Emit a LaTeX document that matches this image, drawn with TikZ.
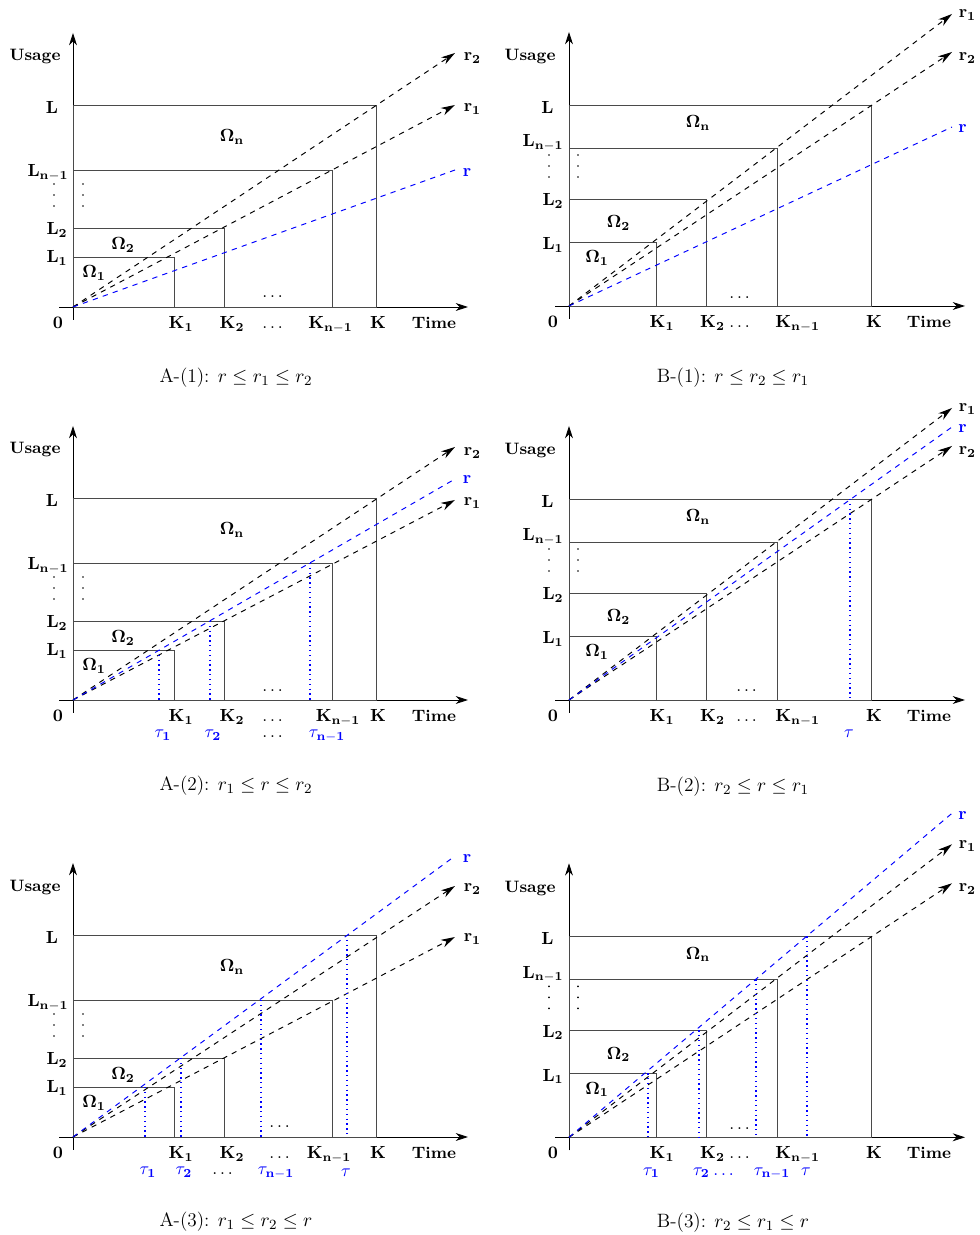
\documentclass[tikz,border=0pt]{standalone}
\usepackage{amsmath,amssymb}
\usepackage{tikz}
\usepackage{xcolor}
\usetikzlibrary{arrows.meta,calc}
\definecolor{ink}{HTML}{000000}
\definecolor{boxgray}{HTML}{4A4A4A}
\definecolor{rayblue}{HTML}{0000FF}
\tikzset{
  axisarr/.style={draw=ink,line width=0.5pt,-{Stealth[length=7pt,width=4.5pt,inset=2.2pt]}},
  region/.style={draw=boxgray,line width=0.5pt},
  rayarr/.style={draw=ink,dashed,line width=0.55pt,-{Stealth[length=8pt,width=4.6pt,inset=2.5pt]}},
  bluray/.style={draw=rayblue,dashed,line width=0.55pt},
  tauline/.style={draw=rayblue,line width=0.75pt,dash pattern=on 0.75pt off 2pt},
  lab/.style={font=\fontsize{10}{12}\selectfont\bfseries,inner sep=0pt},
  txtlab/.style={lab,font=\fontsize{9.4}{11}\selectfont\bfseries},
  bluelab/.style={lab,text=rayblue},
  baselab/.style={lab,anchor=base},
  bluebase/.style={bluelab,anchor=base},
  caplab/.style={font=\fontsize{11}{13}\selectfont,inner sep=0pt}
}

\begin{document}
\begin{tikzpicture}[x=0.02cm,y=0.02cm]
  \useasboundingbox (0,0) rectangle (980,1235);
  % left column frames
  \foreach \p/\oy in {a1/928,a2/535,a3/98}{
    \begin{scope}[shift={(73,\oy)}]
      \draw[axisarr] (-14,0) -- (395,0);
      \draw[axisarr] (0,-13) -- (0,274);
      \foreach \k/\l in {101/50,151/79,259/137,303/202}
        \draw[region] (0,0) rectangle (\k,\l);
      \foreach \dx in {-19,10}
        \foreach \dy in {101,112,123}
          \fill[ink] (\dx,\dy) circle (0.55pt);
      \node[txtlab] (\p-usage) at (-38,250) {Usage};
      \node[lab] (\p-L) at (-21,200) {$\mathbf{L}$};
      \node[lab] (\p-Ln) at (-25,134) {$\mathbf{L_{n-1}}$};
      \node[lab] (\p-L2) at (-16,77) {$\mathbf{L_2}$};
      \node[lab] (\p-L1) at (-16,49) {$\mathbf{L_1}$};
      \node[lab] (\p-omn) at (159,170) {$\mathbf{\Omega_n}$};
      \node[lab] (\p-om2) at (50,62) {$\mathbf{\Omega_2}$};
      \node[lab] (\p-om1) at (21,34) {$\mathbf{\Omega_1}$};
      \node[baselab] (\p-zero) at (-15,-21.5) {$\mathbf{0}$};
      \node[baselab] (\p-K1) at (108,-21.5) {$\mathbf{K_1}$};
      \node[baselab] (\p-K2) at (159,-21.5) {$\mathbf{K_2}$};
      \node[baselab] (\p-K) at (305,-21.5) {$\mathbf{K}$};
      \node[txtlab,anchor=base] (\p-time) at (361,-21.5) {Time};
      \coordinate (\p-o) at (0,0);
    \end{scope}
  }
  % right column frames
  \foreach \p/\oy in {b1/929,b2/535,b3/97.7}{
    \begin{scope}[shift={(569,\oy)}]
      \draw[axisarr] (-14,0) -- (396,0);
      \draw[axisarr] (0,-13) -- (0,274);
      \foreach \k/\l in {87/64,137/107,208/158,302/201}
        \draw[region] (0,0) rectangle (\k,\l);
      \foreach \dx in {-20,9}
        \foreach \dy in {129,140,151}
          \fill[ink] (\dx,\dy) circle (0.55pt);
      \node[txtlab] (\p-usage) at (-39,249) {Usage};
      \node[lab] (\p-L) at (-21.5,199) {$\mathbf{L}$};
      \node[lab] (\p-Ln) at (-26,163) {$\mathbf{L_{n-1}}$};
      \node[lab] (\p-L2) at (-16,105) {$\mathbf{L_2}$};
      \node[lab] (\p-L1) at (-16,61) {$\mathbf{L_1}$};
      \node[lab] (\p-omn) at (129,183) {$\mathbf{\Omega_n}$};
      \node[lab] (\p-om2) at (49.5,83) {$\mathbf{\Omega_2}$};
      \node[lab] (\p-om1) at (28,48) {$\mathbf{\Omega_1}$};
      \node[baselab] (\p-zero) at (-16,-21.5) {$\mathbf{0}$};
      \node[baselab] (\p-K1) at (93,-21.5) {$\mathbf{K_1}$};
      \node[baselab] (\p-K2) at (143.5,-21.5) {$\mathbf{K_2}$};
      \node[baselab] (\p-Kn) at (228.6,-21.5) {$\mathbf{K_{n-1}}$};
      \node[baselab] (\p-K) at (305,-21.5) {$\mathbf{K}$};
      \node[txtlab,anchor=base] (\p-time) at (360,-21.5) {Time};
      \coordinate (\p-o) at (0,0);
    \end{scope}
  }

  % A-(1)
  \begin{scope}[shift={(73,928)}]
    \coordinate (a1-r2) at (382,254);
    \coordinate (a1-r1) at (382,202);
    \coordinate (a1-r) at (382,137);
    \draw[rayarr] (a1-o) -- (a1-r2);
    \draw[rayarr] (a1-o) -- (a1-r1);
    \draw[bluray] (a1-o) -- (a1-r);
    \node[lab] (a1-r2lab) at (399.5,249) {$\mathbf{r_2}$};
    \node[lab] (a1-r1lab) at (399.5,198) {$\mathbf{r_1}$};
    \node[bluelab] (a1-rlab) at (394,134) {$\mathbf{r}$};
    \node[baselab] (a1-Kn) at (257.5,-21.5) {$\mathbf{K_{n-1}}$};
    \node[baselab] (a1-dots) at (201,-21.5) {$\dots$};
    \node[lab] (a1-inner) at (201,10) {$\dots$};
    \node[caplab] (a1-cap) at (163,-71) {A-(1): $r \leq r_1 \leq r_2$};
  \end{scope}

  % B-(1)
  \begin{scope}[shift={(569,929)}]
    \coordinate (b1-r1) at (383,292);
    \coordinate (b1-r2) at (383,254);
    \coordinate (b1-r) at (383,179);
    \draw[rayarr] (b1-o) -- (b1-r1);
    \draw[rayarr] (b1-o) -- (b1-r2);
    \draw[bluray] (b1-o) -- (b1-r);
    \node[lab] (b1-r1lab) at (398.5,291) {$\mathbf{r_1}$};
    \node[lab] (b1-r2lab) at (398.5,248) {$\mathbf{r_2}$};
    \node[bluelab] (b1-rlab) at (393.5,177) {$\mathbf{r}$};
    \node[baselab] (b1-dots) at (172,-21.5) {$\dots$};
    \node[lab] (b1-inner) at (172,8) {$\dots$};
    \node[caplab] (b1-cap) at (164,-72) {B-(1): $r \leq r_2 \leq r_1$};
  \end{scope}

  % A-(2)
  \begin{scope}[shift={(73,535)}]
    \coordinate (a2-r2) at (382,253);
    \coordinate (a2-r1) at (382,200);
    \coordinate (a2-r) at (382,221);
    \draw[rayarr] (a2-o) -- (a2-r2);
    \draw[rayarr] (a2-o) -- (a2-r1);
    \draw[bluray] (a2-o) -- (a2-r);
    \foreach \tx/\ty in {86/50,137/79,237/137}
      \draw[tauline] (\tx,\ty) -- (\tx,0);
    \node[lab] (a2-r2lab) at (399.5,247) {$\mathbf{r_2}$};
    \node[bluelab] (a2-rlab) at (394,220) {$\mathbf{r}$};
    \node[lab] (a2-r1lab) at (399.5,197) {$\mathbf{r_1}$};
    \node[baselab] (a2-Kn) at (265,-21.5) {$\mathbf{K_{n-1}}$};
    \node[baselab] (a2-dots) at (201,-21.5) {$\dots$};
    \node[lab] (a2-inner) at (201,9) {$\dots$};
    \node[bluebase] (a2-t1) at (90,-38) {$\mathbf{\tau_1}$};
    \node[bluebase] (a2-t2) at (140,-38) {$\mathbf{\tau_2}$};
    \node[baselab] (a2-tdots) at (201,-38) {$\dots$};
    \node[bluebase] (a2-tn) at (254,-38) {$\mathbf{\tau_{n-1}}$};
    \node[caplab] (a2-cap) at (163,-86) {A-(2): $r_1 \leq r \leq r_2$};
  \end{scope}

  % B-(2)
  \begin{scope}[shift={(569,535)}]
    \coordinate (b2-r1) at (383,292);
    \coordinate (b2-r2) at (383,254);
    \coordinate (b2-r) at (383,273);
    \draw[rayarr] (b2-o) -- (b2-r1);
    \draw[rayarr] (b2-o) -- (b2-r2);
    \draw[bluray] (b2-o) -- (b2-r);
    \draw[tauline] (281,201) -- (281,0);
    \node[lab] (b2-r1lab) at (398.5,291) {$\mathbf{r_1}$};
    \node[bluelab] (b2-rlab) at (393.5,271) {$\mathbf{r}$};
    \node[lab] (b2-r2lab) at (398.5,248) {$\mathbf{r_2}$};
    \node[baselab] (b2-dots) at (179,-21.5) {$\dots$};
    \node[lab] (b2-inner) at (179,9) {$\dots$};
    \node[bluebase] (b2-tau) at (280,-38) {$\tau$};
    \node[caplab] (b2-cap) at (164,-87) {B-(2): $r_2 \leq r \leq r_1$};
  \end{scope}

  % A-(3)
  \begin{scope}[shift={(73,98)}]
    \coordinate (a3-r) at (382,281);
    \coordinate (a3-r2) at (382,251);
    \coordinate (a3-r1) at (382,200);
    \draw[rayarr] (a3-o) -- (a3-r2);
    \draw[rayarr] (a3-o) -- (a3-r1);
    \draw[bluray] (a3-o) -- (a3-r);
    \foreach \tx/\ty in {72/50,108/79,188/137,274/202}
      \draw[tauline] (\tx,\ty) -- (\tx,0);
    \node[bluelab] (a3-rlab) at (394,278) {$\mathbf{r}$};
    \node[lab] (a3-r2lab) at (399.5,248) {$\mathbf{r_2}$};
    \node[lab] (a3-r1lab) at (399.5,198) {$\mathbf{r_1}$};
    \node[baselab] (a3-Kn) at (256,-21.5) {$\mathbf{K_{n-1}}$};
    \node[baselab] (a3-dots) at (208,-21.5) {$\dots$};
    \node[lab] (a3-inner) at (208,10) {$\dots$};
    \node[bluebase] (a3-t1) at (75,-38) {$\mathbf{\tau_1}$};
    \node[bluebase] (a3-t2) at (111,-38) {$\mathbf{\tau_2}$};
    \node[baselab] (a3-tdots) at (151,-38) {$\dots$};
    \node[bluebase] (a3-tn) at (203,-38) {$\mathbf{\tau_{n-1}}$};
    \node[bluebase] (a3-tau) at (273,-40) {$\tau$};
    \node[caplab] (a3-cap) at (163,-85) {A-(3): $r_1 \leq r_2 \leq r$};
  \end{scope}

  % B-(3)
  \begin{scope}[shift={(569,97.7)}]
    \coordinate (b3-r) at (383,324);
    \coordinate (b3-r1) at (383,293);
    \coordinate (b3-r2) at (383,254);
    \draw[rayarr] (b3-o) -- (b3-r1);
    \draw[rayarr] (b3-o) -- (b3-r2);
    \draw[bluray] (b3-o) -- (b3-r);
    \foreach \tx/\ty in {79/64,130/107,187/158,238/201}
      \draw[tauline] (\tx,\ty) -- (\tx,0);
    \node[bluelab] (b3-rlab) at (393.5,322) {$\mathbf{r}$};
    \node[lab] (b3-r1lab) at (398.5,291) {$\mathbf{r_1}$};
    \node[lab] (b3-r2lab) at (398.5,248) {$\mathbf{r_2}$};
    \node[baselab] (b3-dots) at (172,-21.5) {$\dots$};
    \node[lab] (b3-inner) at (172,9) {$\dots$};
    \node[bluebase] (b3-t1) at (82.5,-38) {$\mathbf{\tau_1}$};
    \node[bluebase] (b3-t2) at (132.5,-38) {$\mathbf{\tau_2}$};
    \node[bluebase] (b3-tdots) at (156,-38) {$\dots$};
    \node[bluebase] (b3-tn) at (203,-38) {$\mathbf{\tau_{n-1}}$};
    \node[bluebase] (b3-tau) at (237,-38) {$\tau$};
    \node[caplab] (b3-cap) at (164,-85) {B-(3): $r_2 \leq r_1 \leq r$};
  \end{scope}
\end{tikzpicture}
\end{document}
